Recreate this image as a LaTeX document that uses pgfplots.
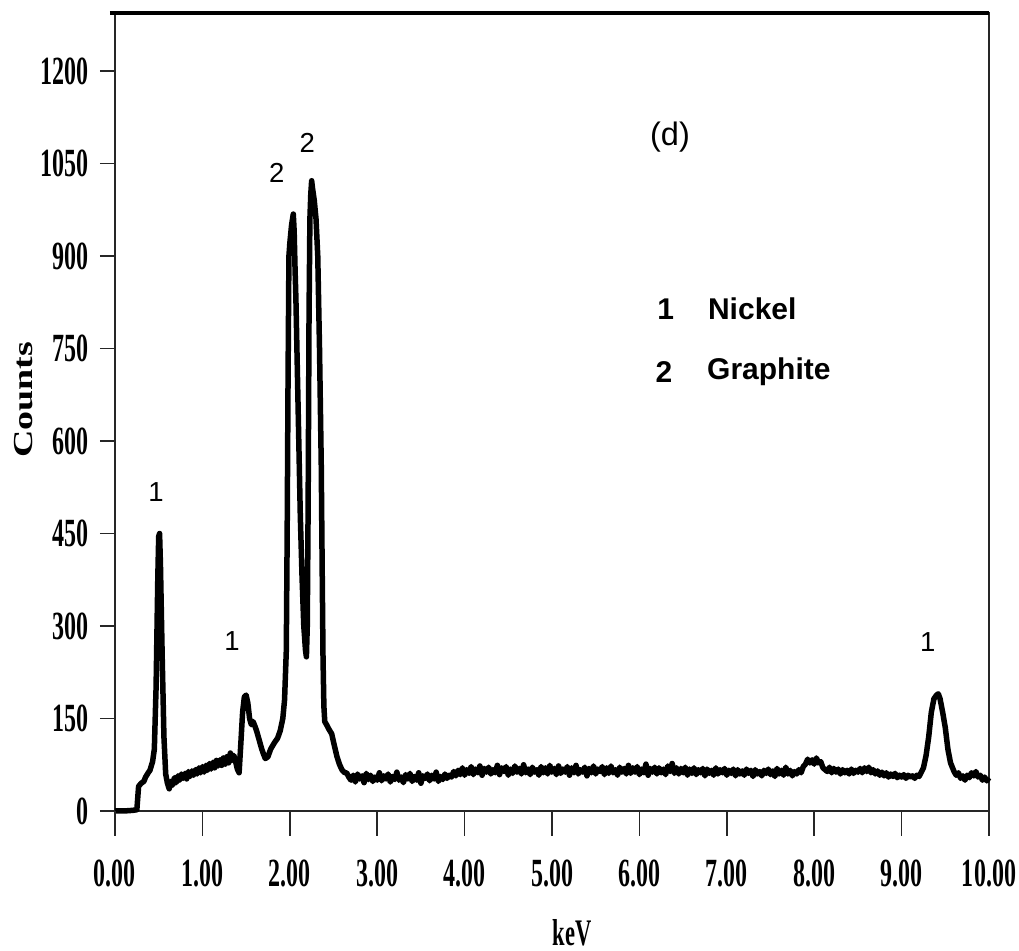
\documentclass[border=0pt]{standalone}
\usepackage{fontspec}
\usepackage{pgfplots}
\pgfplotsset{compat=1.18}
\setmainfont{Liberation Sans}
\newfontfamily\tickfont[FakeStretch=0.6]{Liberation Serif}
\newfontfamily\labfont{Liberation Serif}

\begin{document}
\begin{tikzpicture}
\begin{axis}[
  name=ax,
  scale only axis,
  width=349.6pt, height=319.2pt,
  xmin=0, xmax=10, ymin=0, ymax=1294,
  axis line style={line width=0.6pt, black!85},
  tick align=outside,
  xtick pos=bottom, ytick pos=left,
  major tick length=6pt,
  tick style={line width=0.6pt, black!85},
  xtick style={draw=none},
  xtick={0,1,2,3,4,5,6,7,8,9,10},
  xticklabels={0.00,1.00,2.00,3.00,4.00,5.00,6.00,7.00,8.00,9.00,10.00},
  ytick={0,150,300,450,600,750,900,1050,1200},
  yticklabels={0,150,300,450,600,750,900,1050,1200},
  ticklabel style={font=\fontsize{16}{16}\selectfont\tickfont\bfseries},
  xticklabel style={yshift=-10pt},
  yticklabel style={xshift=-1pt},
  clip=false,
]
\addplot[black, line width=2.2pt, line join=round] coordinates {
(0.00,0) (0.10,0) (0.20,1) (0.25,2) (0.27,40) (0.30,45) (0.33,48) (0.35,55)
(0.38,62) (0.40,66) (0.43,80) (0.45,100) (0.47,200) (0.49,380) (0.50,445)
(0.51,450) (0.52,400) (0.54,250) (0.56,120) (0.58,60)
(0.60,45) (0.62,36) (0.64,48) (0.66,42) (0.68,54) (0.70,46) (0.72,57) (0.74,50)
(0.76,60) (0.78,53) (0.80,61) (0.82,52) (0.84,64) (0.86,56) (0.88,65) (0.90,58)
(0.92,67) (0.94,60) (0.96,70) (0.98,62) (1.00,72) (1.02,63) (1.04,74) (1.06,66)
(1.08,77) (1.10,68) (1.12,79) (1.14,70) (1.16,82) (1.18,73) (1.20,83) (1.22,74)
(1.24,86) (1.26,76) (1.28,88) (1.30,78) (1.32,94) (1.34,82) (1.36,90) (1.38,80)
(1.40,68) (1.42,62) (1.44,110) (1.46,160) (1.48,185)
(1.50,188) (1.52,175) (1.54,150) (1.56,140) (1.58,145) (1.60,138) (1.62,130)
(1.65,115) (1.68,100) (1.70,92) (1.72,85) (1.75,88) (1.78,100) (1.80,105)
(1.83,112) (1.86,118) (1.89,130) (1.92,150) (1.94,180) (1.96,260) (1.97,450)
(1.98,700) (1.99,900) (2.00,920) (2.02,950) (2.04,968) (2.05,940) (2.06,880)
(2.07,830) (2.08,760) (2.10,620) (2.12,480) (2.14,380) (2.16,300) (2.18,260)
(2.19,250) (2.20,300) (2.21,500) (2.22,800) (2.23,960) (2.24,1000) (2.25,1022)
(2.26,1010) (2.28,990) (2.30,960) (2.32,900) (2.34,750) (2.36,560) (2.37,400)
(2.38,250) (2.39,170) (2.40,145) (2.42,140) (2.45,132) (2.48,125) (2.50,112)
(2.52,100) (2.54,88) (2.57,75) (2.60,66) (2.63,62)
(2.650,62) (2.675,55) (2.700,50) (2.725,58) (2.750,47) (2.775,60) (2.800,52) (2.825,57)
(2.850,46) (2.875,61) (2.900,51) (2.925,58) (2.950,48) (2.975,55) (3.000,50) (3.025,62)
(3.050,49) (3.075,57) (3.100,52) (3.125,60) (3.150,47) (3.175,56) (3.200,51) (3.225,63)
(3.250,50) (3.275,55) (3.300,46) (3.325,59) (3.350,52) (3.375,61) (3.400,48) (3.425,56)
(3.450,50) (3.475,62) (3.500,45) (3.525,57) (3.550,53) (3.575,60) (3.600,49) (3.625,58)
(3.650,52) (3.675,63) (3.700,48) (3.725,56) (3.750,51) (3.775,60) (3.800,53) (3.825,58)
(3.850,55) (3.875,64) (3.900,57) (3.925,66) (3.950,59) (3.975,70) (4.000,58) (4.025,67)
(4.050,61) (4.075,72) (4.100,59) (4.125,68) (4.150,62) (4.175,73) (4.200,58) (4.225,69)
(4.250,63) (4.275,71) (4.300,60) (4.325,67) (4.350,62) (4.375,74) (4.400,59) (4.425,70)
(4.450,64) (4.475,72) (4.500,58) (4.525,68) (4.550,61) (4.575,73) (4.600,63) (4.625,69)
(4.650,60) (4.675,75) (4.700,62) (4.725,68) (4.750,59) (4.775,71) (4.800,63) (4.825,67)
(4.850,58) (4.875,72) (4.900,62) (4.925,70) (4.950,60) (4.975,74) (5.000,63) (5.025,69)
(5.050,59) (5.075,73) (5.100,61) (5.125,68) (5.150,63) (5.175,72) (5.200,58) (5.225,70)
(5.250,62) (5.275,74) (5.300,60) (5.325,67) (5.350,63) (5.375,71) (5.400,57) (5.425,69)
(5.450,62) (5.475,73) (5.500,60) (5.525,68) (5.550,64) (5.575,72) (5.600,59) (5.625,70)
(5.650,61) (5.675,73) (5.700,62) (5.725,67) (5.750,58) (5.775,71) (5.800,63) (5.825,69)
(5.850,60) (5.875,74) (5.900,61) (5.925,70) (5.950,63) (5.975,72) (6.000,59) (6.025,68)
(6.050,62) (6.075,76) (6.100,58) (6.125,69) (6.150,63) (6.175,71) (6.200,60) (6.225,70)
(6.250,62) (6.275,68) (6.300,59) (6.325,73) (6.350,64) (6.375,77) (6.400,61) (6.425,70)
(6.450,60) (6.475,69) (6.500,62) (6.525,71) (6.550,58) (6.575,68) (6.600,61) (6.625,70)
(6.650,59) (6.675,67) (6.700,62) (6.725,69) (6.750,57) (6.775,68) (6.800,61) (6.825,66)
(6.850,58) (6.875,70) (6.900,60) (6.925,67) (6.950,62) (6.975,69) (7.000,58) (7.025,66)
(7.050,61) (7.075,68) (7.100,57) (7.125,67) (7.150,60) (7.175,65) (7.200,58) (7.225,68)
(7.250,61) (7.275,66) (7.300,56) (7.325,67) (7.350,60) (7.375,64) (7.400,57) (7.425,66)
(7.450,61) (7.475,68) (7.500,59) (7.525,65) (7.550,56) (7.575,69) (7.600,60) (7.625,66)
(7.650,58) (7.675,71) (7.700,60) (7.725,66) (7.750,57) (7.775,64) (7.800,60) (7.825,67)
(7.850,62) (7.875,72) (7.900,76) (7.925,84) (7.950,78) (7.975,83) (8.000,76) (8.025,86)
(8.050,78) (8.075,80) (8.100,70) (8.125,67) (8.150,64) (8.175,71) (8.200,62) (8.225,69)
(8.250,63) (8.275,68) (8.300,60) (8.325,67) (8.350,62) (8.375,66) (8.400,60) (8.425,68)
(8.450,61) (8.475,66) (8.500,63) (8.525,69) (8.550,62) (8.575,70) (8.600,64) (8.625,71)
(8.650,62) (8.675,67) (8.700,60) (8.725,65) (8.750,58) (8.775,63) (8.800,57) (8.825,62)
(8.850,55) (8.875,60) (8.900,56) (8.925,61) (8.950,54) (8.975,58) (9.000,55) (9.025,59)
(9.050,53) (9.075,58) (9.100,55) (9.125,57) (9.150,53) (9.175,58) (9.200,56)
(9.25,70) (9.28,90) (9.31,120)
(9.34,160) (9.37,182) (9.40,188) (9.42,190) (9.44,182) (9.47,160) (9.50,135)
(9.53,100) (9.56,78) (9.60,64) (9.625,58) (9.65,62) (9.675,53) (9.70,57) (9.725,50)
(9.75,58) (9.775,54) (9.80,62) (9.825,57) (9.85,64) (9.875,55) (9.90,58)
(9.925,50) (9.95,55) (9.975,49) (10.00,54)
};
% thick top frame line
\draw[line width=1.6pt] (rel axis cs:-0.006,1) -- (rel axis cs:1,1);
% peak labels
\node[font=\fontsize{11}{11}\selectfont] at (axis cs:0.47,517) {1};
\node[font=\fontsize{11}{11}\selectfont] at (axis cs:1.34,276) {1};
\node[font=\fontsize{11}{11}\selectfont] at (axis cs:9.30,274) {1};
\node[font=\fontsize{11}{11}\selectfont] at (axis cs:1.85,1035) {2};
\node[font=\fontsize{11}{11}\selectfont] at (axis cs:2.20,1083) {2};
\node[font=\fontsize{13}{13}\selectfont] at (axis cs:6.35,1093) {(d)};
% legend text
\node[font=\fontsize{12}{12}\selectfont\bfseries] at (axis cs:6.30,814) {1};
\node[font=\fontsize{12}{12}\selectfont\bfseries, anchor=west, inner sep=0pt] at (axis cs:6.78,814) {Nickel};
\node[font=\fontsize{12}{12}\selectfont\bfseries] at (axis cs:6.28,712) {2};
\node[font=\fontsize{12}{12}\selectfont\bfseries, anchor=west, inner sep=0pt] at (axis cs:6.77,712) {Graphite};
\end{axis}
% x ticks, longer than the y ticks
\foreach \i in {0,...,10}
  \draw[line width=0.6pt, black!85] ([xshift=\i*34.96pt]ax.south west) -- ++(0,-10pt);
\node[font=\fontsize{15}{15}\selectfont\tickfont\bfseries] at ([shift={(8pt,-48.8pt)}]ax.south) {keV};
\node[rotate=90, font=\fontsize{11}{11}\selectfont\labfont\bfseries] at ([shift={(-36.4pt,4.8pt)}]ax.west) {\scalebox{1.38}[1]{Counts}};
\pgfresetboundingbox
\path[use as bounding box] ([shift={(-46pt,-56pt)}]ax.south west) rectangle ([shift={(12pt,5.2pt)}]ax.north east);
\end{tikzpicture}
\end{document}
